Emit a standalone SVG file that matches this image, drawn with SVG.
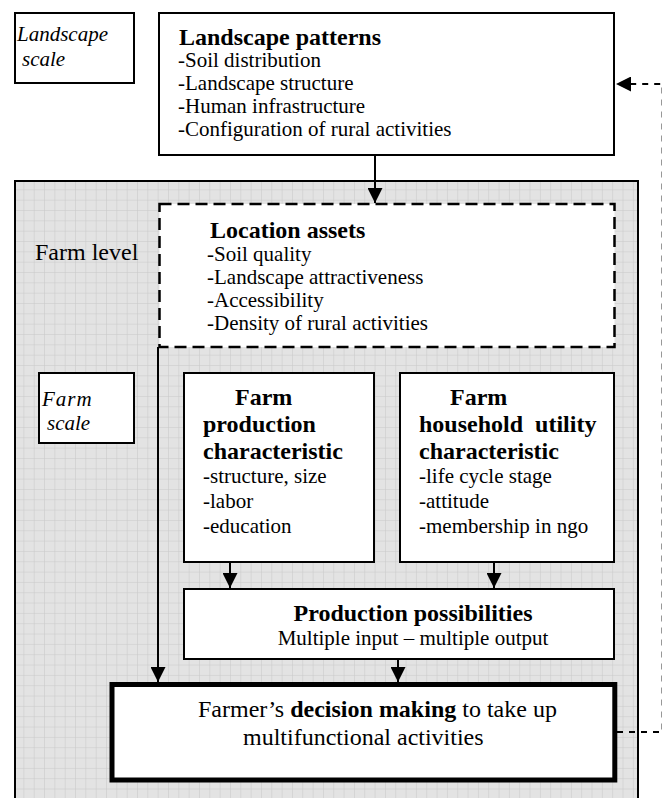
<svg xmlns="http://www.w3.org/2000/svg" width="662" height="798" viewBox="0 0 662 798">
<style>
text{font-family:"Liberation Serif","Times New Roman",serif;fill:#000;}
.b{font-size:21px;}
.t{font-size:24px;font-weight:bold;}
.i{font-size:21px;font-style:italic;}
.box{fill:#fff;stroke:#000;stroke-width:2;}
.conn{fill:none;stroke:#000;stroke-width:2;}
</style>
<defs>
<pattern id="grid" patternUnits="userSpaceOnUse" x="14" y="180" width="10.33" height="10.33">
<rect width="10.33" height="10.33" fill="#e3e3e3"/>
<path d="M10.33,0 V10.33 M0,10.33 H10.33" stroke="#c8c8c8" stroke-width="1" fill="none"/>
</pattern>
<marker id="ah" markerUnits="userSpaceOnUse" markerWidth="15" markerHeight="15" refX="15" refY="7.5" orient="auto">
<path d="M0,0 L15,7.5 L0,15 z" fill="#000"/>
</marker>
</defs>
<rect width="662" height="798" fill="#fff"/>

<g id="landscape-scale">
<rect class="box" x="15" y="13" width="119" height="70"/>
<text class="i" x="17" y="41">Landscape</text>
<text class="i" x="22" y="66">scale</text>
</g>

<g id="landscape-patterns">
<rect class="box" x="159" y="13" width="455" height="142"/>
<text class="t" x="179" y="45">Landscape patterns</text>
<text class="b" x="178" y="67">-Soil distribution</text>
<text class="b" x="178" y="90">-Landscape structure</text>
<text class="b" x="178" y="113">-Human infrastructure</text>
<text class="b" x="178" y="136">-Configuration of rural activities</text>
</g>

<g id="farm-level">
<rect x="15" y="181" width="623" height="640" fill="url(#grid)" stroke="#000" stroke-width="2"/>
<text x="35" y="260" style="font-size:24px">Farm level</text>
</g>

<g id="location-assets">
<rect x="159.5" y="204" width="455" height="143" fill="#fff" stroke="#000" stroke-width="2.5" stroke-dasharray="12,6"/>
<text class="t" x="210" y="238">Location assets</text>
<text class="b" x="207" y="261">-Soil quality</text>
<text class="b" x="207" y="284">-Landscape attractiveness</text>
<text class="b" x="207" y="307">-Accessibility</text>
<text class="b" x="207" y="330">-Density of rural activities</text>
</g>

<g id="farm-scale">
<rect class="box" x="39" y="373" width="95" height="70"/>
<text class="i" x="42" y="406" style="letter-spacing:1px">Farm</text>
<text class="i" x="47" y="430">scale</text>
</g>

<g id="farm-production">
<rect class="box" x="184" y="373" width="190" height="189"/>
<text class="t" x="235" y="405">Farm</text>
<text class="t" x="203" y="432">production</text>
<text class="t" x="203" y="459">characteristic</text>
<text class="b" x="203" y="483">-structure, size</text>
<text class="b" x="203" y="508">-labor</text>
<text class="b" x="203" y="533">-education</text>
</g>

<g id="farm-household">
<rect class="box" x="400" y="373" width="214" height="189"/>
<text class="t" x="450" y="405">Farm</text>
<text class="t" x="419" y="432" style="white-space:pre">household  utility</text>
<text class="t" x="419" y="459">characteristic</text>
<text class="b" x="419" y="483">-life cycle stage</text>
<text class="b" x="419" y="508">-attitude</text>
<text class="b" x="419" y="533">-membership in ngo</text>
</g>

<g id="production-possibilities">
<rect class="box" x="184" y="589" width="430" height="70"/>
<text class="t" x="413" y="621" text-anchor="middle">Production possibilities</text>
<text class="b" x="413" y="645" text-anchor="middle">Multiple input – multiple output</text>
</g>

<g id="decision-making">
<rect x="112" y="684.5" width="502.8" height="95.5" fill="#fff" stroke="#000" stroke-width="5"/>
<text x="198" y="717" style="font-size:24px">Farmer’s <tspan font-weight="bold">decision making</tspan> to take up</text>
<text x="243" y="745" style="font-size:24px">multifunctional activities</text>
</g>

<g id="connectors">
<path class="conn" d="M375,156 V203" marker-end="url(#ah)"/>
<path class="conn" d="M158,347 V682" marker-end="url(#ah)"/>
<path class="conn" d="M230,563 V588" marker-end="url(#ah)"/>
<path class="conn" d="M494,563 V588" marker-end="url(#ah)"/>
<path class="conn" d="M398,660 V682" marker-end="url(#ah)"/>
<path class="conn" d="M617,732 H662.6 V84 H616" stroke-dasharray="6,6" marker-end="url(#ah)"/>
</g>
</svg>
